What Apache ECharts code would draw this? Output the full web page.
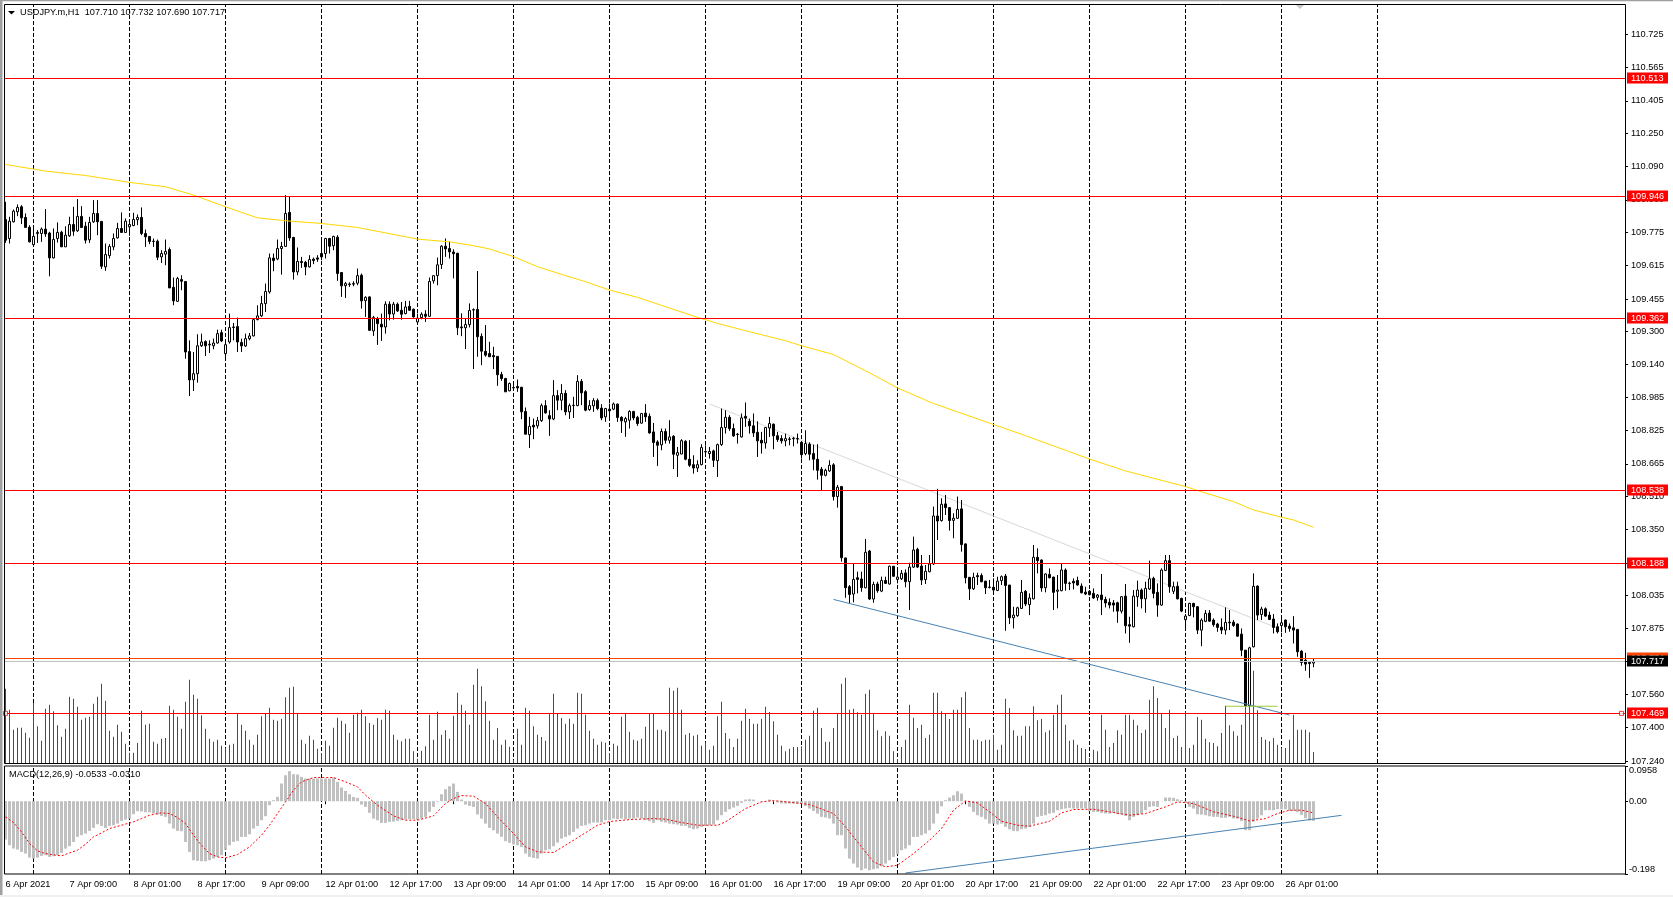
<!DOCTYPE html>
<html><head><meta charset="utf-8">
<style>html,body{margin:0;padding:0;background:#fff}#c{width:1673px;height:897px}</style>
<script src="https://cdn.jsdelivr.net/npm/echarts@6/dist/echarts.min.js"></script>
</head><body><div id="c"></div>
<script>
const open = [
109.836,109.745,109.825,109.873,109.897,109.846,109.799,109.715,109.769,109.769,
109.790,109.771,109.652,109.745,109.775,109.705,109.758,109.812,109.782,109.851,
109.804,109.739,109.825,109.865,109.827,109.609,109.663,109.705,109.748,109.793,
109.774,109.801,109.807,109.835,109.846,109.769,109.755,109.731,109.732,109.657,
109.670,109.692,109.511,109.444,109.548,109.539,109.203,109.068,109.097,109.231,
109.251,109.235,109.231,109.244,109.294,109.193,109.249,109.318,109.323,109.247,
109.230,109.265,109.278,109.356,109.374,109.433,109.489,109.651,109.647,109.697,
109.707,109.870,109.750,109.585,109.635,109.631,109.609,109.646,109.652,109.673,
109.673,109.745,109.710,109.751,109.582,109.519,109.524,109.526,109.531,109.569,
109.447,109.465,109.302,109.361,109.334,109.321,109.430,109.383,109.430,109.401,
109.385,109.420,109.406,109.345,109.366,109.382,109.372,109.542,109.567,109.620,
109.708,109.697,109.680,109.674,109.321,109.317,109.332,109.402,109.405,109.276,
109.204,109.194,109.184,109.180,109.093,109.074,109.015,109.029,109.036,109.032,
108.916,108.805,108.850,108.847,108.872,108.944,108.896,108.880,108.992,108.970,
109.003,108.914,108.944,108.944,109.060,109.011,108.925,108.943,108.968,108.932,
108.890,108.927,108.927,108.951,108.888,108.866,108.874,108.916,108.888,108.860,
108.908,108.893,108.818,108.770,108.756,108.820,108.778,108.797,108.706,108.712,
108.773,108.687,108.661,108.645,108.661,108.722,108.714,108.727,108.680,108.757,
108.839,108.888,108.834,108.805,108.794,108.893,108.869,108.847,108.816,108.778,
108.765,108.837,108.855,108.800,108.786,108.775,108.782,108.785,108.786,108.768,
108.714,108.759,108.714,108.687,108.639,108.610,108.631,108.660,108.508,108.556,
108.214,108.076,108.041,108.119,108.113,108.071,108.247,108.017,108.089,108.055,
108.106,108.089,108.174,108.111,108.114,108.142,108.100,108.170,108.255,108.175,
108.110,108.148,108.185,108.415,108.393,108.473,108.455,108.394,108.404,108.449,
108.281,108.121,108.066,108.129,108.130,108.103,108.072,108.073,108.058,108.105,
108.127,108.084,107.927,107.937,107.972,108.054,107.990,108.018,108.217,108.204,
108.071,108.135,108.122,108.054,108.057,108.156,108.091,108.102,108.106,108.079,
108.050,108.054,108.044,108.025,108.036,108.015,108.001,107.998,107.999,107.959,
108.031,107.894,107.884,108.028,108.060,108.018,108.065,108.116,108.049,107.988,
108.154,108.201,108.054,108.078,108.020,107.918,107.938,107.996,107.980,107.868,
107.910,107.950,107.916,107.897,107.882,107.868,107.906,107.906,107.897,107.849,
107.772,107.505,107.788,108.079,107.943,107.970,107.940,107.921,107.884,107.890,
107.916,107.887,107.879,107.871,107.767,107.724,107.713,107.710];
const close = [
109.737,109.828,109.876,109.894,109.844,109.798,109.729,109.755,109.774,109.790,
109.767,109.652,109.740,109.774,109.705,109.761,109.812,109.780,109.851,109.798,
109.737,109.822,109.865,109.825,109.612,109.668,109.707,109.745,109.793,109.774,
109.828,109.812,109.836,109.846,109.769,109.753,109.731,109.732,109.655,109.673,
109.683,109.508,109.446,109.553,109.540,109.201,109.067,109.097,109.231,109.249,
109.231,109.238,109.244,109.289,109.254,109.236,109.318,109.321,109.249,109.230,
109.265,109.278,109.356,109.374,109.433,109.491,109.652,109.639,109.697,109.707,
109.865,109.748,109.585,109.635,109.630,109.609,109.644,109.639,109.646,109.657,
109.745,109.708,109.755,109.577,109.518,109.529,109.527,109.529,109.567,109.446,
109.463,109.305,109.366,109.337,109.321,109.430,109.383,109.430,109.398,109.382,
109.417,109.401,109.369,109.363,109.382,109.372,109.539,109.567,109.619,109.708,
109.695,109.681,109.672,109.317,109.317,109.333,109.400,109.404,109.274,109.205,
109.186,109.178,109.178,109.092,109.074,109.010,109.050,109.031,109.029,108.914,
108.807,108.845,108.842,108.872,108.944,108.909,108.880,108.992,108.970,109.002,
108.914,108.944,108.946,109.060,109.005,108.922,108.944,108.968,108.930,108.885,
108.930,108.919,108.952,108.887,108.871,108.882,108.916,108.885,108.858,108.906,
108.890,108.813,108.767,108.754,108.820,108.778,108.794,108.711,108.719,108.776,
108.687,108.658,108.645,108.661,108.743,108.724,108.724,108.682,108.757,108.839,
108.888,108.834,108.799,108.807,108.885,108.884,108.847,108.813,108.775,108.765,
108.839,108.858,108.799,108.781,108.775,108.786,108.784,108.787,108.784,108.709,
108.762,108.711,108.687,108.634,108.610,108.634,108.658,108.508,108.553,108.215,
108.071,108.039,108.111,108.111,108.071,108.241,108.017,108.087,108.057,108.106,
108.092,108.174,108.126,108.122,108.140,108.100,108.170,108.252,108.170,108.108,
108.150,108.185,108.415,108.391,108.471,108.455,108.393,108.404,108.447,108.278,
108.119,108.066,108.121,108.124,108.100,108.071,108.074,108.060,108.103,108.124,
108.082,107.927,107.940,107.975,108.049,107.993,108.022,108.217,108.201,108.070,
108.137,108.119,108.049,108.060,108.156,108.092,108.093,108.094,108.084,108.047,
108.041,108.038,108.022,108.036,108.014,107.998,107.988,107.988,107.959,108.028,
107.889,107.887,108.031,108.060,108.018,108.068,108.114,108.044,107.988,108.156,
108.201,108.076,108.076,108.018,107.959,107.935,107.996,107.980,107.868,107.916,
107.948,107.911,107.894,107.881,107.868,107.905,107.903,107.890,107.839,107.772,
107.505,107.783,108.078,107.940,107.969,107.935,107.919,107.881,107.860,107.903,
107.884,107.876,107.868,107.764,107.713,107.705,107.708,107.717];
const low = [
109.724,109.721,109.822,109.852,109.814,109.798,109.726,109.705,109.724,109.729,
109.753,109.564,109.649,109.726,109.705,109.705,109.753,109.758,109.777,109.798,
109.721,109.724,109.820,109.761,109.599,109.590,109.649,109.689,109.745,109.774,
109.772,109.758,109.804,109.809,109.761,109.705,109.718,109.705,109.641,109.628,
109.617,109.508,109.425,109.441,109.497,109.169,108.990,109.014,109.054,109.225,
109.182,109.196,109.214,109.241,109.249,109.177,109.241,109.257,109.201,109.201,
109.225,109.257,109.276,109.353,109.369,109.393,109.481,109.588,109.641,109.572,
109.705,109.734,109.548,109.569,109.604,109.569,109.606,109.622,109.633,109.641,
109.649,109.673,109.689,109.542,109.465,109.460,109.513,109.516,109.521,109.409,
109.369,109.302,109.278,109.235,109.254,109.289,109.353,109.356,109.393,109.356,
109.382,109.398,109.366,109.343,109.358,109.345,109.369,109.529,109.521,109.599,
109.657,109.649,109.554,109.282,109.277,109.215,109.319,109.119,109.178,109.138,
109.178,109.178,109.119,109.039,109.063,109.010,109.013,109.015,109.010,108.879,
108.807,108.741,108.783,108.834,108.866,108.906,108.799,108.874,108.922,108.922,
108.898,108.880,108.885,108.941,108.946,108.917,108.919,108.914,108.922,108.874,
108.866,108.874,108.922,108.866,108.813,108.794,108.834,108.874,108.847,108.858,
108.866,108.810,108.698,108.655,108.730,108.762,108.762,108.640,108.602,108.711,
108.682,108.650,108.618,108.626,108.658,108.698,108.690,108.650,108.602,108.751,
108.810,108.823,108.794,108.762,108.791,108.842,108.810,108.794,108.698,108.714,
108.738,108.794,108.735,108.770,108.762,108.749,108.754,108.749,108.762,108.690,
108.706,108.682,108.634,108.589,108.535,108.605,108.626,108.489,108.455,108.196,
108.023,107.996,108.001,108.044,108.052,108.068,108.012,107.999,108.047,108.050,
108.089,108.086,108.124,108.092,108.108,108.073,107.964,108.166,108.166,108.084,
108.089,108.145,108.180,108.300,108.388,108.420,108.345,108.308,108.401,108.244,
108.092,108.012,108.060,108.084,108.097,108.041,108.068,108.036,108.055,108.084,
107.865,107.897,107.876,107.932,107.969,107.983,107.940,108.015,108.140,108.052,
108.049,108.116,107.964,107.972,108.054,108.057,108.060,108.063,108.081,108.044,
108.036,108.034,108.018,108.009,107.940,107.977,107.972,107.956,107.903,107.948,
107.852,107.807,107.881,107.980,107.972,107.951,108.060,108.020,107.932,107.985,
108.151,108.047,108.041,108.015,107.954,107.868,107.935,107.929,107.849,107.791,
107.906,107.908,107.884,107.860,107.849,107.846,107.868,107.884,107.836,107.743,
107.503,107.503,107.785,107.916,107.916,107.932,107.916,107.852,107.852,107.857,
107.855,107.860,107.804,107.740,107.697,107.673,107.639,107.690];
const high = [
109.921,109.849,109.884,109.908,109.905,109.865,109.809,109.801,109.785,109.798,
109.886,109.777,109.793,109.822,109.782,109.804,109.849,109.897,109.934,109.900,
109.825,109.849,109.929,109.929,109.827,109.721,109.718,109.769,109.820,109.870,
109.841,109.825,109.868,109.860,109.894,109.788,109.756,109.745,109.740,109.689,
109.740,109.702,109.558,109.561,109.569,109.539,109.257,109.201,109.286,109.289,
109.257,109.257,109.265,109.308,109.308,109.257,109.385,109.340,109.366,109.265,
109.289,109.292,109.361,109.425,109.470,109.529,109.673,109.673,109.740,109.729,
109.953,109.945,109.753,109.702,109.657,109.638,109.665,109.654,109.665,109.745,
109.748,109.748,109.758,109.761,109.582,109.537,109.535,109.540,109.601,109.577,
109.468,109.468,109.374,109.369,109.385,109.444,109.444,109.441,109.438,109.441,
109.446,109.446,109.409,109.385,109.391,109.401,109.558,109.567,109.654,109.713,
109.745,109.729,109.693,109.677,109.386,109.362,109.434,109.410,109.589,109.290,
109.330,109.250,109.226,109.180,109.106,109.077,109.055,109.045,109.069,109.034,
108.935,108.890,108.882,108.890,108.954,108.970,108.922,109.066,109.018,109.047,
109.018,108.954,108.986,109.090,109.071,109.018,108.970,108.980,108.978,108.951,
108.933,108.954,108.959,108.954,108.893,108.890,108.922,108.919,108.895,108.909,
108.951,108.906,108.861,108.778,108.834,108.834,108.874,108.802,108.746,108.783,
108.778,108.778,108.706,108.682,108.759,108.754,108.746,108.733,108.762,108.930,
108.922,108.898,108.858,108.813,108.906,108.959,108.882,108.906,108.869,108.818,
108.842,108.890,108.858,108.818,108.802,108.810,108.794,108.794,108.810,108.770,
108.826,108.768,108.757,108.759,108.650,108.642,108.682,108.668,108.564,108.559,
108.214,108.084,108.185,108.148,108.148,108.305,108.252,108.100,108.100,108.124,
108.124,108.177,108.175,108.156,108.156,108.159,108.191,108.316,108.263,108.228,
108.180,108.228,108.460,108.545,108.500,108.516,108.457,108.428,108.508,108.492,
108.284,108.121,108.143,108.143,108.140,108.103,108.108,108.116,108.124,108.130,
108.137,108.084,107.980,107.980,108.108,108.060,108.044,108.276,108.260,108.207,
108.140,108.164,108.124,108.132,108.185,108.164,108.100,108.116,108.124,108.092,
108.076,108.060,108.068,108.041,108.137,108.028,108.020,108.012,108.004,108.031,
108.089,107.932,108.060,108.105,108.068,108.100,108.201,108.124,108.092,108.164,
108.228,108.228,108.100,108.100,108.023,107.945,107.999,107.999,107.983,107.924,
107.964,107.964,107.924,107.903,107.924,107.977,107.964,107.916,107.900,107.876,
107.772,107.788,108.140,108.082,107.980,107.977,107.956,107.945,107.900,107.924,
107.919,107.900,107.935,107.874,107.772,107.759,107.714,107.732];
const volume = [
223,160,100,106,106,91,76,180,110,67,
163,175,155,113,79,103,199,193,169,130,
136,139,178,199,238,187,97,79,115,94,
58,31,31,60,157,115,118,64,58,73,
75,172,160,139,103,184,250,205,193,143,
103,73,64,70,52,45,55,58,150,115,
97,70,55,85,140,150,166,130,127,133,
197,226,229,148,70,58,82,70,43,30,
67,52,106,136,127,118,91,145,151,160,
140,120,115,135,130,160,157,85,70,65,
73,73,35,13,37,50,145,70,154,85,
98,73,142,211,175,157,115,235,283,230,
185,127,70,105,55,70,49,10,103,55,
166,157,110,85,78,67,148,208,148,135,
118,133,118,211,208,145,97,73,55,64,
61,30,58,52,139,148,94,70,67,73,
109,148,148,100,100,95,226,217,226,160,
85,90,82,85,52,62,40,52,140,184,
90,73,48,73,127,163,133,118,118,133,
169,153,125,85,52,35,43,48,48,50,
70,82,157,166,105,64,64,105,150,238,
256,160,163,152,145,208,220,148,98,80,
95,82,35,12,48,70,175,136,105,115,
75,85,211,211,155,150,132,160,160,197,
214,105,70,70,65,70,70,85,40,55,
193,165,98,82,82,110,110,170,128,132,
92,98,145,175,205,115,67,70,55,45,
42,15,40,35,145,100,48,60,98,85,
145,145,130,113,90,100,190,230,195,150,
105,160,75,82,48,155,45,55,138,130,
73,62,60,50,90,172,113,95,82,115,
210,223,277,158,78,70,65,75,55,45,
45,70,145,100,100,100,92,33];
const macdHist = [
-.1043,-.1197,-.1288,-.1315,-.1379,-.1424,-.1533,-.1560,-.1533,-.1487,
-.1469,-.1515,-.1497,-.1469,-.1406,-.1288,-.1224,-.1107,-.0970,-.0925,
-.0880,-.0807,-.0726,-.0626,-.0671,-.0726,-.0671,-.0653,-.0608,-.0535,
-.0499,-.0472,-.0354,-.0272,-.0281,-.0299,-.0299,-.0336,-.0363,-.0399,
-.0426,-.0608,-.0744,-.0807,-.0816,-.1107,-.1379,-.1605,-.1624,-.1633,
-.1633,-.1605,-.1560,-.1515,-.1469,-.1315,-.1197,-.1107,-.1079,-.0970,
-.0970,-.0898,-.0744,-.0671,-.0517,-.0408,-.0109,.0027,.0118,.0481,
.0707,.0816,.0735,.0726,.0662,.0617,.0617,.0617,.0617,.0617,
.0617,.0617,.0644,.0526,.0372,.0281,.0190,.0118,.0091,-.0091,
-.0154,-.0317,-.0472,-.0517,-.0590,-.0590,-.0562,-.0553,-.0535,-.0517,
-.0499,-.0490,-.0490,-.0499,-.0472,-.0426,-.0290,-.0154,-.0018,.0190,
.0327,.0408,.0481,.0254,.0045,-.0091,-.0127,-.0154,-.0363,-.0472,
-.0608,-.0726,-.0789,-.0880,-.0970,-.1088,-.1134,-.1179,-.1197,-.1243,
-.1424,-.1515,-.1542,-.1560,-.1424,-.1333,-.1306,-.1224,-.1125,-.1016,
-.0970,-.0925,-.0834,-.0744,-.0671,-.0653,-.0608,-.0580,-.0580,-.0580,
-.0517,-.0517,-.0472,-.0490,-.0472,-.0490,-.0472,-.0472,-.0444,-.0472,
-.0517,-.0544,-.0590,-.0517,-.0562,-.0580,-.0608,-.0626,-.0635,-.0671,
-.0671,-.0726,-.0762,-.0744,-.0698,-.0671,-.0653,-.0635,-.0517,-.0381,
-.0290,-.0218,-.0172,-.0127,-.0045,.0045,.0054,.0045,-.0005,-.0018,
.0009,.0045,.0009,-.0036,-.0063,-.0063,-.0063,-.0063,-.0063,-.0063,
-.0127,-.0200,-.0263,-.0336,-.0426,-.0444,-.0472,-.0608,-.0925,-.0925,
-.1288,-.1560,-.1696,-.1805,-.1877,-.1832,-.1877,-.1850,-.1832,-.1769,
-.1696,-.1605,-.1515,-.1442,-.1333,-.1288,-.1197,-.0970,-.0970,-.0925,
-.0880,-.0789,-.0608,-.0336,-.0136,.0027,.0100,.0163,.0272,.0209,
.0009,-.0154,-.0290,-.0381,-.0426,-.0490,-.0608,-.0608,-.0635,-.0608,
-.0698,-.0762,-.0807,-.0816,-.0762,-.0744,-.0698,-.0608,-.0426,-.0399,
-.0381,-.0336,-.0317,-.0245,-.0218,-.0200,-.0181,-.0200,-.0200,-.0200,
-.0200,-.0272,-.0290,-.0290,-.0317,-.0336,-.0336,-.0317,-.0354,-.0363,
-.0399,-.0517,-.0426,-.0381,-.0336,-.0245,-.0154,-.0136,-.0154,-.0005,
.0100,.0100,.0091,.0054,.0027,-.0045,-.0154,-.0200,-.0354,-.0363,
-.0381,-.0408,-.0426,-.0426,-.0453,-.0453,-.0426,-.0472,-.0472,-.0544,
-.0789,-.0789,-.0562,-.0472,-.0381,-.0245,-.0245,-.0245,-.0218,-.0218,
-.0218,-.0263,-.0263,-.0290,-.0372,-.0462,-.0526,-.0533];
const signalBars = [0,2,4,6,8,10,12,14,16,18,20,22,24,26,29,32,34,36,39,41,43,45,47,49,51,53,55,58,61,64,66,68,70,72,74,77,82,85,88,90,93,97,100,103,107,110,112,114,117,120,123,127,130,133,137,140,144,148,151,156,162,165,169,173,178,180,185,189,192,196,201,207,210,214,217,220,223,227,231,234,237,240,243,246,249,253,256,261,264,267,272,276,281,285,290,293,297,302,307,311,315,318,321,324,327];
const signalValues = [-.0426,-.0580,-.0834,-.1151,-.1351,-.1424,-.1460,-.1487,-.1406,-.1333,-.1170,-.0970,-.0861,-.0744,-.0653,-.0562,-.0472,-.0381,-.0317,-.0336,-.0444,-.0608,-.0925,-.1197,-.1424,-.1515,-.1542,-.1451,-.1243,-.0925,-.0653,-.0336,-.0018,.0299,.0526,.0644,.0644,.0526,.0390,.0163,-.0109,-.0399,-.0517,-.0517,-.0399,-.0063,.0073,.0154,.0136,-.0063,-.0426,-.0880,-.1242,-.1378,-.1396,-.1197,-.0925,-.0653,-.0553,-.0499,-.0472,-.0490,-.0580,-.0653,-.0653,-.0562,-.0200,-.0018,.0018,-.0027,-.0091,-.0336,-.0698,-.1242,-.1650,-.1786,-.1741,-.1424,-.1061,-.0744,-.0245,.0009,-.0045,-.0290,-.0544,-.0653,-.0680,-.0544,-.0317,-.0227,-.0218,-.0290,-.0381,-.0336,-.0154,-.0018,-.0063,-.0290,-.0408,-.0535,-.0472,-.0336,-.0245,-.0245,-.0317];
const maBars = [0,10,20,31,40,47,55,63,70,79,88,103,111,116,121,127,133,139,145,151,158,165,173,178,186,195,199,207,215,223,232,255,271,280,295,298,307,312,319,322,327];
const maValues = [110.100,110.068,110.047,110.014,109.993,109.953,109.897,109.844,109.830,109.817,109.798,109.742,109.729,109.714,109.695,109.658,109.610,109.573,109.538,109.498,109.463,109.418,109.367,109.338,109.298,109.255,109.231,109.189,109.111,109.029,108.954,108.800,108.688,108.631,108.556,108.537,108.484,108.444,108.409,108.396,108.361];
const tickLabels = ["6 Apr 2021","7 Apr 09:00","8 Apr 01:00","8 Apr 17:00","9 Apr 09:00","12 Apr 01:00","12 Apr 17:00","13 Apr 09:00","14 Apr 01:00","14 Apr 17:00","15 Apr 09:00","16 Apr 01:00","16 Apr 17:00","19 Apr 09:00","20 Apr 01:00","20 Apr 17:00","21 Apr 09:00","22 Apr 01:00","22 Apr 17:00","23 Apr 09:00","26 Apr 01:00"];
const priceTicks = [110.725,110.565,110.405,110.250,110.090,109.930,109.775,109.615,109.455,109.300,109.140,108.985,108.825,108.665,108.510,108.350,108.190,108.035,107.875,107.720,107.560,107.400,107.240];
const macdTicks = [0.0958,0,-0.198];
const redLevels = [110.513,109.946,109.362,108.538,108.188,107.469];
const orangeLevel = 107.734;
const lastPrice = 107.717;
const daySeparators = [7,31,55,79,103,127,151,175,199,223,247,271,295,319,343];
const grayTrend = [[176,108.952],[318,107.878]];
const blueTrend = [[207,108.015],[321,107.461]];
const greenSegment = [[305,107.503],[318,107.503]];
const macdTrend = [[225,-0.1953],[334,-0.0384]];

const SLOTS = 406, BAR_STEP = 16;
const FONT = '"Liberation Sans", Arial, sans-serif', FS = 9.2;
const categories = Array.from({length:SLOTS},(_,i)=> i%BAR_STEP===0 && tickLabels[i/BAR_STEP] ? tickLabels[i/BAR_STEP] : '#'+i);
const isLabelled = i => i%BAR_STEP===0 && i/BAR_STEP < tickLabels.length;
const candles = open.map((o,i)=>[o,close[i],low[i],high[i]]);
const pairs = (a,b)=>a.map((x,i)=>[x,b[i]]);

const levels = [
  {v:orangeLevel,line:'#FF4500',bg:'#FF4500'},
  {v:lastPrice,line:'#C0C0C0',bg:'#000'},
  ...redLevels.map(v=>({v,line:'#FF0000',bg:'#FF0000'}))
];
function renderLevel(params,api){
  const lv = levels[params.dataIndex];
  const y = Math.floor(api.coord([0,api.value(1)])[1])+0.5;
  const cs = params.coordSys, right = cs.x+cs.width;
  return {type:'group',children:[
    {type:'line',shape:{x1:cs.x+1.5,y1:y,x2:right-2.5,y2:y},style:{stroke:lv.line,lineWidth:1}},
    {type:'rect',shape:{x:right-0.5,y:y-6,width:41,height:11},style:{fill:lv.bg}},
    {type:'text',style:{x:right+3.5,y:y-0.5,text:lv.v.toFixed(3),fill:'#fff',fontFamily:FONT,fontSize:FS,align:'left',verticalAlign:'middle'}}
  ]};
}
const sepLine = {symbol:'none',silent:true,z:0,animation:false,label:{show:false},
  lineStyle:{color:'#000',type:[4,2],width:1},data:daySeparators.map(x=>({xAxis:x}))};

const chart = echarts.init(document.getElementById('c'),null,{renderer:'canvas'});
chart.setOption({
  animation:false,backgroundColor:'#fff',
  title:[
    {text:'USDJPY.m,H1\u00a0\u00a0107.710 107.732 107.690 107.717',left:20,top:8,padding:0,textStyle:{fontFamily:FONT,fontSize:FS,fontWeight:'normal',color:'#000'}},
    {text:'MACD(12,26,9) -0.0533 -0.0310',left:9,top:770,padding:0,textStyle:{fontFamily:FONT,fontSize:FS,fontWeight:'normal',color:'#000'}}
  ],
  grid:[{left:3.5,top:4,width:1624,height:759,containLabel:false},{left:3.5,top:766,width:1624,height:108,containLabel:false}],
  xAxis:[
    {type:'category',gridIndex:0,data:categories,show:false,boundaryGap:true},
    {type:'category',gridIndex:1,data:categories,boundaryGap:true,
     axisLine:{show:false},
     axisTick:{show:true,alignWithLabel:true,length:3,interval:isLabelled,lineStyle:{color:'#000'}},
     axisLabel:{interval:isLabelled,align:'left',margin:6,showMinLabel:true,fontFamily:FONT,fontSize:FS,color:'#000',hideOverlap:false},
     splitLine:{show:false}}
  ],
  yAxis:[
    {type:'value',gridIndex:0,position:'right',offset:-2.5,min:107.231,max:110.869,scale:true,splitLine:{show:false},
     axisLine:{show:false},
     axisTick:{show:true,length:3,customValues:priceTicks,lineStyle:{color:'#000'}},
     axisLabel:{margin:6,customValues:priceTicks,formatter:v=>v.toFixed(3),fontFamily:FONT,fontSize:FS,color:'#000',showMinLabel:true,showMaxLabel:true}},
    {type:'value',gridIndex:0,min:0,max:2277,show:false,splitLine:{show:false}},
    {type:'value',gridIndex:1,position:'right',offset:-2.5,min:-0.198,max:0.0958,splitLine:{show:false},
     axisLine:{show:false},
     axisTick:{show:true,length:3,customValues:macdTicks,lineStyle:{color:'#000'}},
     axisLabel:{margin:4,customValues:macdTicks,formatter:v=>v===0?'0.00':String(v),verticalAlignMaxLabel:'bottom',verticalAlignMinLabel:'top',fontFamily:FONT,fontSize:FS,color:'#000'}}
  ],
  series:[
    {name:'separators-main',type:'line',xAxisIndex:0,yAxisIndex:0,data:[],clip:false,markLine:sepLine},
    {name:'separators-sub',type:'line',xAxisIndex:1,yAxisIndex:2,data:[],clip:false,markLine:sepLine},
    {name:'Volume',type:'bar',xAxisIndex:0,yAxisIndex:1,data:volume,barWidth:1,z:1,itemStyle:{color:'#008000'},silent:true},
    {name:'USDJPY',type:'candlestick',xAxisIndex:0,yAxisIndex:0,data:candles,barWidth:3,z:3,silent:true,
     itemStyle:{color:'#fff',color0:'#000',borderColor:'#000',borderColor0:'#000',borderWidth:1}},
    {name:'MA',type:'line',xAxisIndex:0,yAxisIndex:0,data:pairs(maBars,maValues),showSymbol:false,symbol:'none',smooth:false,z:4,silent:true,lineStyle:{color:'#FFD700',width:1}},
    {name:'gray trend',type:'line',xAxisIndex:0,yAxisIndex:0,data:grayTrend,symbol:'none',z:2,silent:true,lineStyle:{color:'#D8D8D8',width:1}},
    {name:'blue trend',type:'line',xAxisIndex:0,yAxisIndex:0,data:blueTrend,symbol:'none',z:5,silent:true,lineStyle:{color:'#4682B4',width:1}},
    {name:'green segment',type:'line',xAxisIndex:0,yAxisIndex:0,data:greenSegment,symbol:'none',z:5,silent:true,lineStyle:{color:'#9ACD32',width:1}},
    {name:'levels',type:'custom',xAxisIndex:0,yAxisIndex:0,data:levels.map(l=>[0,l.v]),renderItem:renderLevel,z:6,silent:true,clip:false},
    {name:'handles',type:'scatter',xAxisIndex:0,yAxisIndex:0,data:[[0,redLevels[5]],[404,redLevels[5]]],symbol:'rect',symbolSize:4,z:7,silent:true,
     itemStyle:{color:'#fff',borderColor:'#FF0000',borderWidth:1}},
    {name:'MACD',type:'bar',xAxisIndex:1,yAxisIndex:2,data:macdHist,barWidth:3,z:1,silent:true,itemStyle:{color:'#C0C0C0'}},
    {name:'Signal',type:'line',xAxisIndex:1,yAxisIndex:2,data:pairs(signalBars,signalValues),symbol:'none',z:4,silent:true,lineStyle:{color:'#FF0000',width:1,type:[2,2]}},
    {name:'macd trend',type:'line',xAxisIndex:1,yAxisIndex:2,data:macdTrend,symbol:'none',z:5,silent:true,lineStyle:{color:'#4682B4',width:1}}
  ],
  graphic:[
    {type:'rect',silent:true,z:50,shape:{x:0,y:0,width:2.5,height:897},style:{fill:'#A0A0A0'}},
    {type:'rect',silent:true,z:50,shape:{x:0,y:0,width:1673,height:1.2},style:{fill:'#A0A0A0'}},
    {type:'rect',silent:true,z:50,shape:{x:0,y:895,width:1673,height:2},style:{fill:'#F0F0F0'}},
    {type:'rect',silent:true,z:50,shape:{x:4.5,y:4.5,width:1621,height:759},style:{fill:'none',stroke:'#000',lineWidth:1}},
    {type:'rect',silent:true,z:50,shape:{x:4.5,y:766,width:1621,height:108},style:{fill:'none',stroke:'#000',lineWidth:1}},
    {type:'polygon',silent:true,z:50,shape:{points:[[8,11],[15,11],[11.5,14.5]]},style:{fill:'#000'}},
    {type:'polygon',silent:true,z:50,shape:{points:[[1296,5],[1304,5],[1300,9]]},style:{fill:'#C8C8C8'}}
  ]
});
</script></body></html>
